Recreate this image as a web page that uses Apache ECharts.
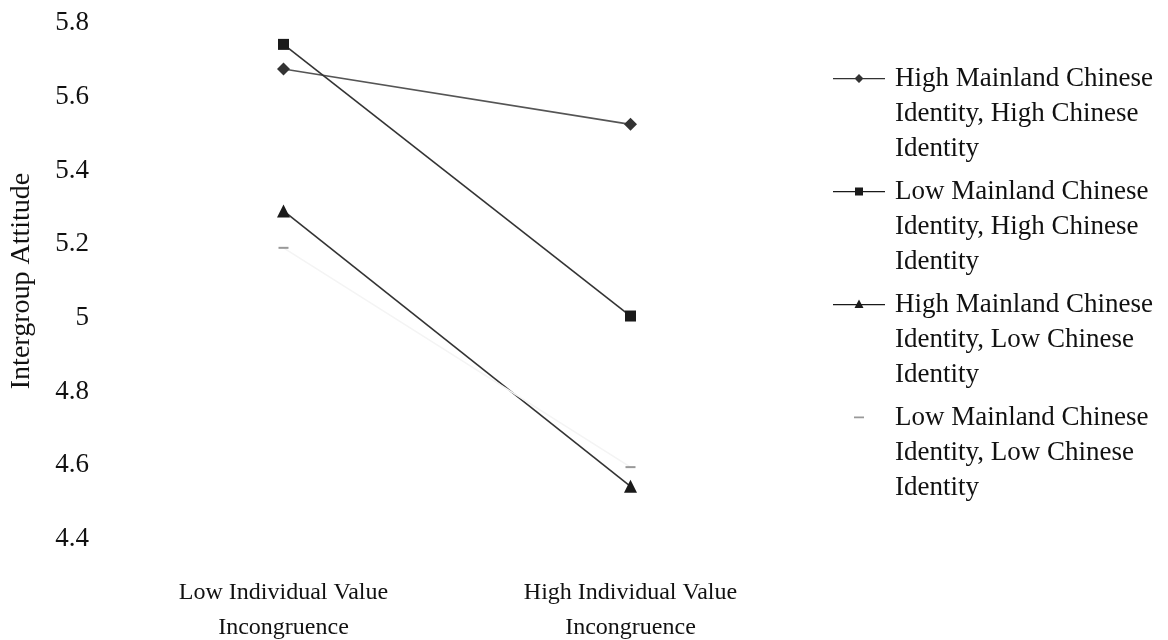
<!DOCTYPE html>
<html>
<head>
<meta charset="utf-8">
<script src="https://cdn.jsdelivr.net/npm/echarts@6/dist/echarts.min.js"></script>
<style>
  html, body { margin: 0; padding: 0; background: #fff; }
  #chart { width: 1168px; height: 640px; }
</style>
</head>
<body>
<div id="chart"></div>
<script>
const categories = ['Low Individual Value\nIncongruence', 'High Individual Value\nIncongruence']
const seriesNames = [
  'High Mainland Chinese\nIdentity, High Chinese\nIdentity',
  'Low Mainland Chinese\nIdentity, High Chinese\nIdentity',
  'High Mainland Chinese\nIdentity, Low Chinese\nIdentity',
  'Low Mainland Chinese\nIdentity, Low Chinese\nIdentity'
]
const highMainHighChinese = [5.675, 5.525]
const lowMainHighChinese = [5.742, 5.005]
const highMainLowChinese = [5.29, 4.543]
const lowMainLowChinese = [5.19, 4.595]

const font = 'Liberation Serif, Times New Roman, serif'
const LH = 35

// legend icons: line + marker on the first text line, corner dots keep the box 57x105
const box = 'M0,0 L0.01,0 L0,0.01 Z M57,105 L56.99,105 L57,104.99 Z '
const stroke = 'M0,17 L52,17 L52,18.2 L0,18.2 Z '
const icons = [
  'path://' + box + stroke + 'M26,13 L30.5,17.5 L26,22 L21.5,17.5 Z',
  'path://' + box + stroke + 'M22,13.5 L30,13.5 L30,21.5 L22,21.5 Z',
  'path://' + box + stroke + 'M26,12.5 L30.5,21 L21.5,21 Z',
  'path://' + box + 'M21,16.5 L31,16.5 L31,18.3 L21,18.3 Z',
]

const chart = echarts.init(document.getElementById('chart'))

const lineSeries = (name, data, symbol, size, lineColor, markColor) => ({
  name,
  type: 'line',
  data,
  symbol,
  symbolSize: size,
  showAllSymbol: true,
  lineStyle: { color: lineColor, width: 1.6 },
  itemStyle: { color: markColor, borderWidth: 0 },
  emphasis: { disabled: true },
})

chart.setOption({
  animation: false,
  backgroundColor: '#fff',
  grid: { left: 110, right: 364, top: 23, bottom: 101, outerBoundsMode: 'none' },
  legend: {
    orient: 'vertical',
    left: 828,
    top: 56,
    itemWidth: 57,
    itemHeight: 105,
    itemGap: 8,
    symbolKeepAspect: false,
    data: seriesNames.map((n, i) => ({ name: n, icon: icons[i] })),
    textStyle: {
      fontFamily: font,
      fontSize: 27,
      color: '#111',
      lineHeight: LH,
    },
  },
  xAxis: {
    type: 'category',
    data: categories,
    boundaryGap: true,
    axisLine: { show: false },
    axisTick: { show: false },
    axisLabel: {
      fontFamily: font,
      fontSize: 24,
      color: '#111',
      lineHeight: LH,
      margin: 36,
      interval: 0,
    },
  },
  yAxis: {
    type: 'value',
    min: 4.4,
    max: 5.8,
    interval: 0.2,
    name: 'Intergroup Attitude',
    nameLocation: 'middle',
    nameRotate: 90,
    nameGap: 74,
    nameTextStyle: { fontFamily: font, fontSize: 28, color: '#111' },
    axisLine: { show: false },
    axisTick: { show: false },
    splitLine: { show: false },
    axisLabel: {
      fontFamily: font,
      fontSize: 27,
      color: '#111',
      margin: 21,
    },
  },
  series: [
    lineSeries(seriesNames[0], highMainHighChinese, 'diamond', 13, '#555', '#333'),
    lineSeries(seriesNames[1], lowMainHighChinese, 'rect', 11, '#333', '#1a1a1a'),
    lineSeries(seriesNames[2], highMainLowChinese, 'triangle', 13, '#333', '#1a1a1a'),
    lineSeries(seriesNames[3], lowMainLowChinese, 'rect', [10, 2], '#f4f4f4', '#999'),
  ],
})
</script>
</body>
</html>
